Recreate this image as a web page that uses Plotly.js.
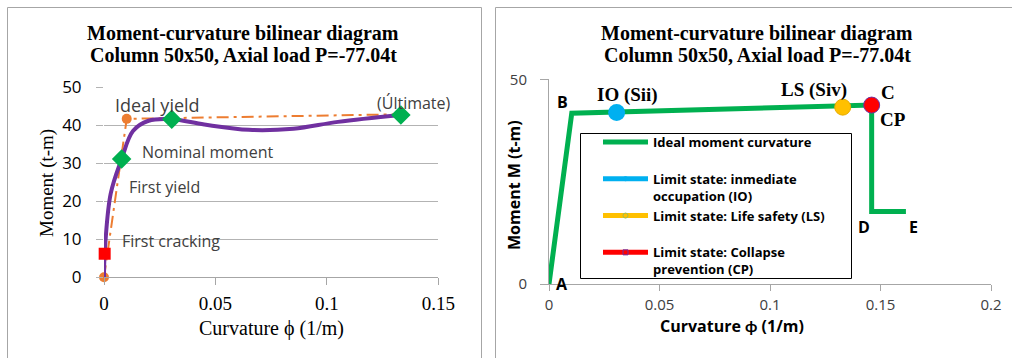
<!DOCTYPE html>
<html>
<head>
<meta charset="utf-8">
<script src="https://cdn.plot.ly/plotly-3.0.1.min.js"></script>
<style>
  html, body { margin: 0; padding: 0; background: #fff; }
  #chart { width: 1012px; height: 358px; }
</style>
</head>
<body>
<div id="chart"></div>
<script>
// ---- Left chart: moment-curvature analysis (t-m vs 1/m) ----
const curveCurvature = [0, 0.0003, 0.003, 0.0079, 0.013, 0.02, 0.0304, 0.045, 0.065, 0.085, 0.105, 0.1332];
const curveMoment    = [0, 6.2, 22, 31.1, 38.5, 41.2, 41.6, 40.2, 38.8, 39.1, 40.9, 42.7];

const bilinearCurvature = [0, 0.0102, 0.1332];
const bilinearMoment    = [0, 41.7, 42.9];

const keyCurvature = [0.0079, 0.0304, 0.1332];   // first yield, nominal, ultimate
const keyMoment    = [31.1, 41.6, 42.7];

const crackCurvature = [0.0003];
const crackMoment    = [6.2];

const leftXTicks = [0, 0.05, 0.1, 0.15];
const leftYTicks = [0, 10, 20, 30, 40, 50];

// ---- Right chart: idealised A-B-C-D-E curve with limit states ----
const idealCurvature = [0, 0.0103, 0.146, 0.146, 0.1615];
const idealMoment    = [0, 41.7, 43.7, 17.7, 17.7];

const ioCurvature = [0.0306]; const ioMoment = [41.9];
const lsCurvature = [0.1329]; const lsMoment = [43.2];
const cpCurvature = [0.146];  const cpMoment = [43.7];

const rightXTicks = [0, 0.05, 0.1, 0.15, 0.2];
const rightYTicks = [0, 50];

// page is drawn with zero margins, so paper coords map straight to pixels
const W = 1012, H = 358;
const px = v => v / W;
const py = v => 1 - v / H;

const serif = 'Liberation Serif, Times New Roman, serif';
const sans = 'Open Sans, Lato, sans-serif';
const gridGray = '#b3b3b3';
const axisGray = '#a6a6a6';

const traces = [
  {
    x: bilinearCurvature, y: bilinearMoment, xaxis: 'x', yaxis: 'y',
    mode: 'lines+markers', showlegend: false, cliponaxis: false,
    line: { color: '#ED7D31', width: 2, dash: '12px,5px,3px,5px' },
    marker: { color: '#ED7D31', size: 10 }
  },
  {
    x: curveCurvature, y: curveMoment, xaxis: 'x', yaxis: 'y',
    mode: 'lines', showlegend: false, cliponaxis: false,
    line: { color: '#7030A0', width: 4, shape: 'spline', smoothing: 1 }
  },
  {
    x: keyCurvature, y: keyMoment, xaxis: 'x', yaxis: 'y',
    mode: 'markers', showlegend: false, cliponaxis: false,
    marker: { symbol: 'diamond', color: '#00B050', size: 15 }
  },
  {
    x: crackCurvature, y: crackMoment, xaxis: 'x', yaxis: 'y',
    mode: 'markers', showlegend: false, cliponaxis: false,
    marker: { symbol: 'square', color: '#FF0000', size: 12 }
  },
  {
    x: idealCurvature, y: idealMoment, xaxis: 'x2', yaxis: 'y2', cliponaxis: false,
    mode: 'lines', name: 'Ideal moment curvature<br> ', legendgroup: 'g1',
    line: { color: '#00B050', width: 5 }
  },
  {
    x: ioCurvature, y: ioMoment, xaxis: 'x2', yaxis: 'y2',
    mode: 'markers', showlegend: false, cliponaxis: false,
    marker: { color: '#00B0F0', size: 17 }
  },
  {
    x: lsCurvature, y: lsMoment, xaxis: 'x2', yaxis: 'y2',
    mode: 'markers', showlegend: false, cliponaxis: false,
    marker: { color: '#FFC000', size: 16, line: { color: '#E6AC00', width: 1 } }
  },
  {
    x: cpCurvature, y: cpMoment, xaxis: 'x2', yaxis: 'y2',
    mode: 'markers', showlegend: false, cliponaxis: false,
    marker: { color: '#FF0000', size: 16, line: { color: '#7030A0', width: 1 } }
  },
  // legend entries for the limit states (thick line with a small marker)
  {
    x: [null], y: [null], xaxis: 'x2', yaxis: 'y2', legendgroup: 'g2',
    mode: 'lines+markers', name: 'Limit state: inmediate<br>occupation (IO)',
    line: { color: '#00B0F0', width: 5 },
    marker: { color: '#00B0F0', size: 5 }
  },
  {
    x: [null], y: [null], xaxis: 'x2', yaxis: 'y2', legendgroup: 'g3',
    mode: 'lines+markers', name: 'Limit state: Life safety (LS)<br> ',
    line: { color: '#FFC000', width: 5 },
    marker: { color: '#FFC000', size: 5, line: { color: '#9BBB59', width: 1 } }
  },
  {
    x: [null], y: [null], xaxis: 'x2', yaxis: 'y2', legendgroup: 'g4',
    mode: 'lines+markers', name: 'Limit state: Collapse<br>prevention (CP)',
    line: { color: '#FF0000', width: 5 },
    marker: { color: '#FF0000', symbol: 'square', size: 5, line: { color: '#7030A0', width: 1 } }
  }
];

function ann(text, x, y, font, extra) {
  return Object.assign({
    text: text, xref: 'paper', yref: 'paper', x: px(x), y: py(y),
    xanchor: 'center', yanchor: 'middle', showarrow: false, font: font
  }, extra || {});
}

const titleFont = { family: serif, size: 20, color: '#000', weight: 'bold' };
const leftLabelFont = { family: sans, size: 16, color: '#404040' };
const rightLetterFont = { family: sans, size: 16, color: '#000', weight: 'bold' };
const rightSerifFont = { family: serif, size: 19, color: '#000', weight: 'bold' };

const annotations = [
  ann('Moment-curvature bilinear diagram', 243, 33, titleFont),
  ann('Column 50x50, Axial load P=-77.04t', 243, 55, titleFont),
  ann('Moment-curvature bilinear diagram', 757, 33, titleFont),
  ann('Column 50x50, Axial load P=-77.04t', 757, 55, titleFont),

  ann('Moment (t-m)', 47, 183, { family: serif, size: 19, color: '#000' }, { textangle: -90 }),
  ann('Curvature ϕ (1/m)', 271, 328, { family: serif, size: 20, color: '#000' }),
  ann('Moment M (t-m)', 514, 185, { family: sans, size: 16, color: '#000', weight: 'bold' }, { textangle: -90 }),
  ann('Curvature ϕ (1/m)', 732, 326, { family: sans, size: 16, color: '#000', weight: 'bold' }),

  ann('Ideal yield', 157, 105, { family: sans, size: 18, color: '#404040' }),
  ann('Nominal moment', 140, 152, leftLabelFont, { xanchor: 'left' }),
  ann('First yield', 127, 187, leftLabelFont, { xanchor: 'left' }),
  ann('First cracking', 120, 241, leftLabelFont, { xanchor: 'left' }),
  ann('(Últimate)', 375, 103, leftLabelFont, { xanchor: 'left' }),

  ann('B', 562, 102, rightLetterFont),
  ann('A', 562, 284, rightLetterFont),
  ann('D', 864, 227, rightLetterFont),
  ann('E', 913, 227, rightLetterFont),
  ann('IO (Sii)', 627, 95, rightSerifFont),
  ann('LS (Siv)', 814, 90, rightSerifFont),
  ann('C', 888, 92, rightSerifFont),
  ann('CP', 878, 120, rightSerifFont, { xanchor: 'left' })
];

const shapes = [
  // panel frames
  { type: 'rect', xref: 'paper', yref: 'paper', x0: px(7.5), x1: px(481.5), y0: -0.2, y1: py(7.5),
    line: { color: '#a6a6a6', width: 1 }, fillcolor: 'rgba(0,0,0,0)', layer: 'below' },
  { type: 'rect', xref: 'paper', yref: 'paper', x0: px(495.5), x1: 1.2, y0: -0.2, y1: py(7.5),
    line: { color: '#a6a6a6', width: 1 }, fillcolor: 'rgba(0,0,0,0)', layer: 'below' },
  // legend frame
  { type: 'rect', xref: 'paper', yref: 'paper', x0: px(580.5), x1: px(851.5), y0: py(278.5), y1: py(133.5),
    line: { color: '#000', width: 1 }, fillcolor: '#fff', layer: 'above' }
];

const layout = {
  width: W, height: H,
  margin: { l: 0, r: 0, t: 0, b: 0 },
  paper_bgcolor: '#fff', plot_bgcolor: 'rgba(0,0,0,0)',
  showlegend: true,
  xaxis: {
    domain: [px(104), px(438.3)], range: [0, 0.15], anchor: 'y',
    tickvals: leftXTicks, ticks: 'outside', ticklen: 7, tickcolor: axisGray,
    showline: true, linecolor: axisGray, linewidth: 1,
    showgrid: false, zeroline: false,
    tickfont: { family: serif, size: 19, color: '#000' }, ticklabelstandoff: 2
  },
  yaxis: {
    domain: [py(277.3), py(87.3)], range: [0, 50], anchor: 'x',
    tickvals: leftYTicks, ticks: 'outside', ticklen: 7, tickcolor: gridGray,
    showline: false, showgrid: true, gridcolor: gridGray, gridwidth: 1, zeroline: false,
    tickfont: { family: sans, size: 17, color: '#000' }, ticklabelstandoff: 11
  },
  xaxis2: {
    domain: [px(549), px(991)], range: [0, 0.2], anchor: 'y2',
    tickvals: rightXTicks, ticks: 'outside', ticklen: 6, tickcolor: axisGray,
    showline: true, linecolor: axisGray, linewidth: 1,
    showgrid: false, zeroline: false,
    tickfont: { family: sans, size: 15, color: '#404040' }, ticklabelstandoff: 1
  },
  yaxis2: {
    domain: [py(284), py(79.3)], range: [0, 50], anchor: 'x2',
    tickvals: rightYTicks, ticks: 'outside', ticklen: 8, tickcolor: axisGray,
    showline: true, linecolor: axisGray, linewidth: 1,
    showgrid: true, gridcolor: gridGray, gridwidth: 1, zeroline: false,
    tickfont: { family: sans, size: 15, color: '#404040' }, ticklabelstandoff: 10
  },
  legend: {
    x: px(598), y: py(127), xanchor: 'left', yanchor: 'top',
    bgcolor: 'rgba(0,0,0,0)', borderwidth: 0,
    font: { family: sans, size: 13, color: '#000', weight: 'bold' },
    valign: 'top', traceorder: 'grouped', tracegroupgap: 0, itemwidth: 45
  },
  annotations: annotations,
  shapes: shapes
};

Plotly.newPlot('chart', traces, layout, { displayModeBar: false, staticPlot: true });
</script>
</body>
</html>
